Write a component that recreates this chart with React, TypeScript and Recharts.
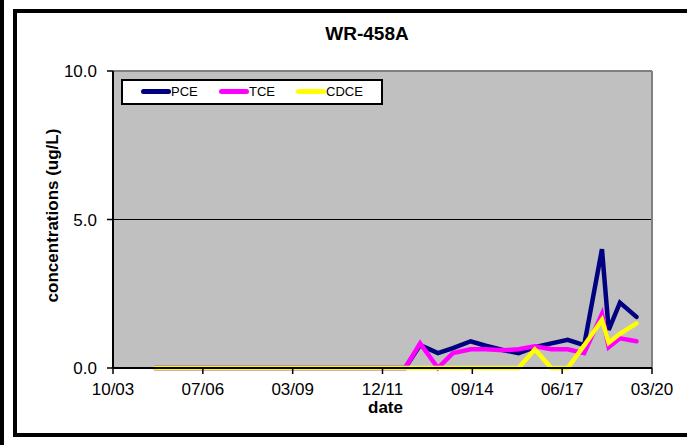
import {
  CartesianGrid,
  Line,
  LineChart,
  ReferenceLine,
  XAxis,
  YAxis,
} from "recharts";

const sampleDates = [
  "2005-01-15", "2006-01-15", "2007-01-15", "2008-01-15", "2009-01-15",
  "2010-01-15", "2011-01-15", "2012-01-15", "2012-09-01", "2013-02-15",
  "2013-09-01", "2014-02-15", "2014-09-01", "2015-02-15", "2015-09-01",
  "2016-02-15", "2016-08-15", "2017-02-15", "2017-08-15", "2018-02-15",
  "2018-09-01", "2018-11-15", "2019-03-20", "2019-09-20",
];

const pce = [
  0, 0, 0, 0, 0, 0, 0, 0, 0, 0.77,
  0.5, 0.67, 0.9, 0.75, 0.6, 0.5, 0.7, 0.83, 0.95, 0.77,
  4.0, 1.28, 2.2, 1.72,
];

const tce = [
  0, 0, 0, 0, 0, 0, 0, 0, 0, 0.83,
  0, 0.5, 0.63, 0.63, 0.6, 0.63, 0.73, 0.63, 0.63, 0.5,
  1.82, 0.7, 1.0, 0.9,
];

const cdce = [
  0, 0, 0, 0, 0, 0, 0, 0, 0, 0,
  0, 0, 0, 0, 0, 0, 0.63, 0, 0, 0.76,
  1.62, 0.85, 1.15, 1.5,
];

const tickDates = [
  "2003-10-07", "2006-07-03", "2009-03-29", "2011-12-24",
  "2014-09-19", "2017-06-15", "2020-03-11",
];

const yTicks = [0, 5, 10];

const series = [
  { key: "PCE", color: "#000080" },
  { key: "TCE", color: "#ff00ff" },
  { key: "CDCE", color: "#ffff00" },
];

const toTime = (d: string) => new Date(d + "T00:00:00Z").getTime();

const rows = sampleDates.map((d, i) => ({
  t: toTime(d),
  PCE: pce[i],
  TCE: tce[i],
  CDCE: cdce[i],
}));

const xTicks = tickDates.map(toTime);

const fmtDate = (v: number) => {
  const d = new Date(v);
  const mm = String(d.getUTCMonth() + 1).padStart(2, "0");
  const yy = String(d.getUTCFullYear() % 100).padStart(2, "0");
  return `${mm}/${yy}`;
};

const font = "'Liberation Sans', Arial, sans-serif";

const YLabel = (props: any) => {
  const { viewBox } = props;
  const cx = viewBox.x + 52;
  const cy = viewBox.y + viewBox.height / 2 - 4;
  return (
    <text
      x={cx}
      y={cy}
      transform={`rotate(-90, ${cx}, ${cy})`}
      textAnchor="middle"
      dominantBaseline="central"
      fontWeight="bold"
      fontSize={17}
      fontFamily={font}
      fill="#000"
    >
      concentrations (ug/L)
    </text>
  );
};

const XLabel = (props: any) => {
  const { viewBox } = props;
  const cx = viewBox.x + viewBox.width / 2 + 3;
  return (
    <text
      x={cx}
      y={413}
      textAnchor="middle"
      fontWeight="bold"
      fontSize={17}
      fontFamily={font}
      fill="#000"
    >
      date
    </text>
  );
};

const ChartLegend = () => {
  const spots = [18, 96, 173];
  return (
    <div
      style={{
        position: "absolute",
        left: 121,
        top: 79,
        width: 262,
        height: 26,
        boxSizing: "border-box",
        border: "2px solid #000",
        background: "#fff",
        fontFamily: font,
        fontSize: 13,
      }}
    >
      {series.map((s, i) => (
        <div key={s.key}>
          <div
            style={{
              position: "absolute",
              left: spots[i],
              top: 8,
              width: 30,
              height: 5,
              borderRadius: 3,
              background: s.color,
            }}
          />
          <div
            style={{
              position: "absolute",
              left: spots[i] + 30,
              top: 3,
              lineHeight: "15px",
            }}
          >
            {s.key}
          </div>
        </div>
      ))}
    </div>
  );
};

export default function App() {
  return (
    <div
      style={{
        position: "absolute",
        left: 0,
        top: 0,
        width: 687,
        height: 445,
        background: "#fff",
        overflow: "hidden",
        fontFamily: font,
      }}
    >
      <div
        style={{
          position: "absolute",
          left: 0,
          top: 0,
          width: 4,
          height: 445,
          background: "#000",
        }}
      />
      <div
        style={{
          position: "absolute",
          left: 13,
          top: 9,
          width: 690,
          height: 428,
          boxSizing: "border-box",
          border: "4px solid #000",
        }}
      />
      <div
        style={{
          position: "absolute",
          left: 267,
          top: 24,
          width: 200,
          textAlign: "center",
          fontWeight: "bold",
          fontSize: 19,
          lineHeight: 1,
        }}
      >
        WR-458A
      </div>
      <div style={{ position: "absolute", left: 0, top: 0 }}>
        <LineChart
          width={687}
          height={445}
          data={rows}
          margin={{ top: 71, right: 35, bottom: 27, left: 0 }}
        >
          <CartesianGrid
            vertical={false}
            fill="#c0c0c0"
            fillOpacity={1}
            stroke="#000"
            strokeWidth={1.2}
          />
          <XAxis
            dataKey="t"
            type="number"
            scale="time"
            domain={[xTicks[0], xTicks[xTicks.length - 1]]}
            ticks={xTicks}
            tickFormatter={fmtDate}
            height={50}
            tickSize={6}
            tickMargin={9}
            tick={{ fill: "#000", fontSize: 17, fontFamily: font }}
            tickLine={{ stroke: "#000", strokeWidth: 1.5 }}
            axisLine={{ stroke: "#000", strokeWidth: 2 }}
            label={<XLabel />}
          />
          <YAxis
            domain={[0, 10]}
            ticks={yTicks}
            tickFormatter={(v: number) => v.toFixed(1)}
            width={113}
            tickSize={6}
            tickMargin={10}
            tick={{ fill: "#000", fontSize: 17, fontFamily: font }}
            tickLine={{ stroke: "#000", strokeWidth: 1.5 }}
            axisLine={{ stroke: "#000", strokeWidth: 2 }}
            label={<YLabel />}
          />
          <ReferenceLine y={10} stroke="#808080" strokeWidth={2} />
          <ReferenceLine
            x={xTicks[xTicks.length - 1]}
            stroke="#808080"
            strokeWidth={2}
          />
          {series.map(s => (
            <Line
              key={s.key}
              type="linear"
              dataKey={s.key}
              stroke={s.color}
              strokeWidth={4.5}
              strokeLinecap="round"
              dot={false}
              isAnimationActive={false}
            />
          ))}
        </LineChart>
      </div>
      <ChartLegend />
    </div>
  );
}
